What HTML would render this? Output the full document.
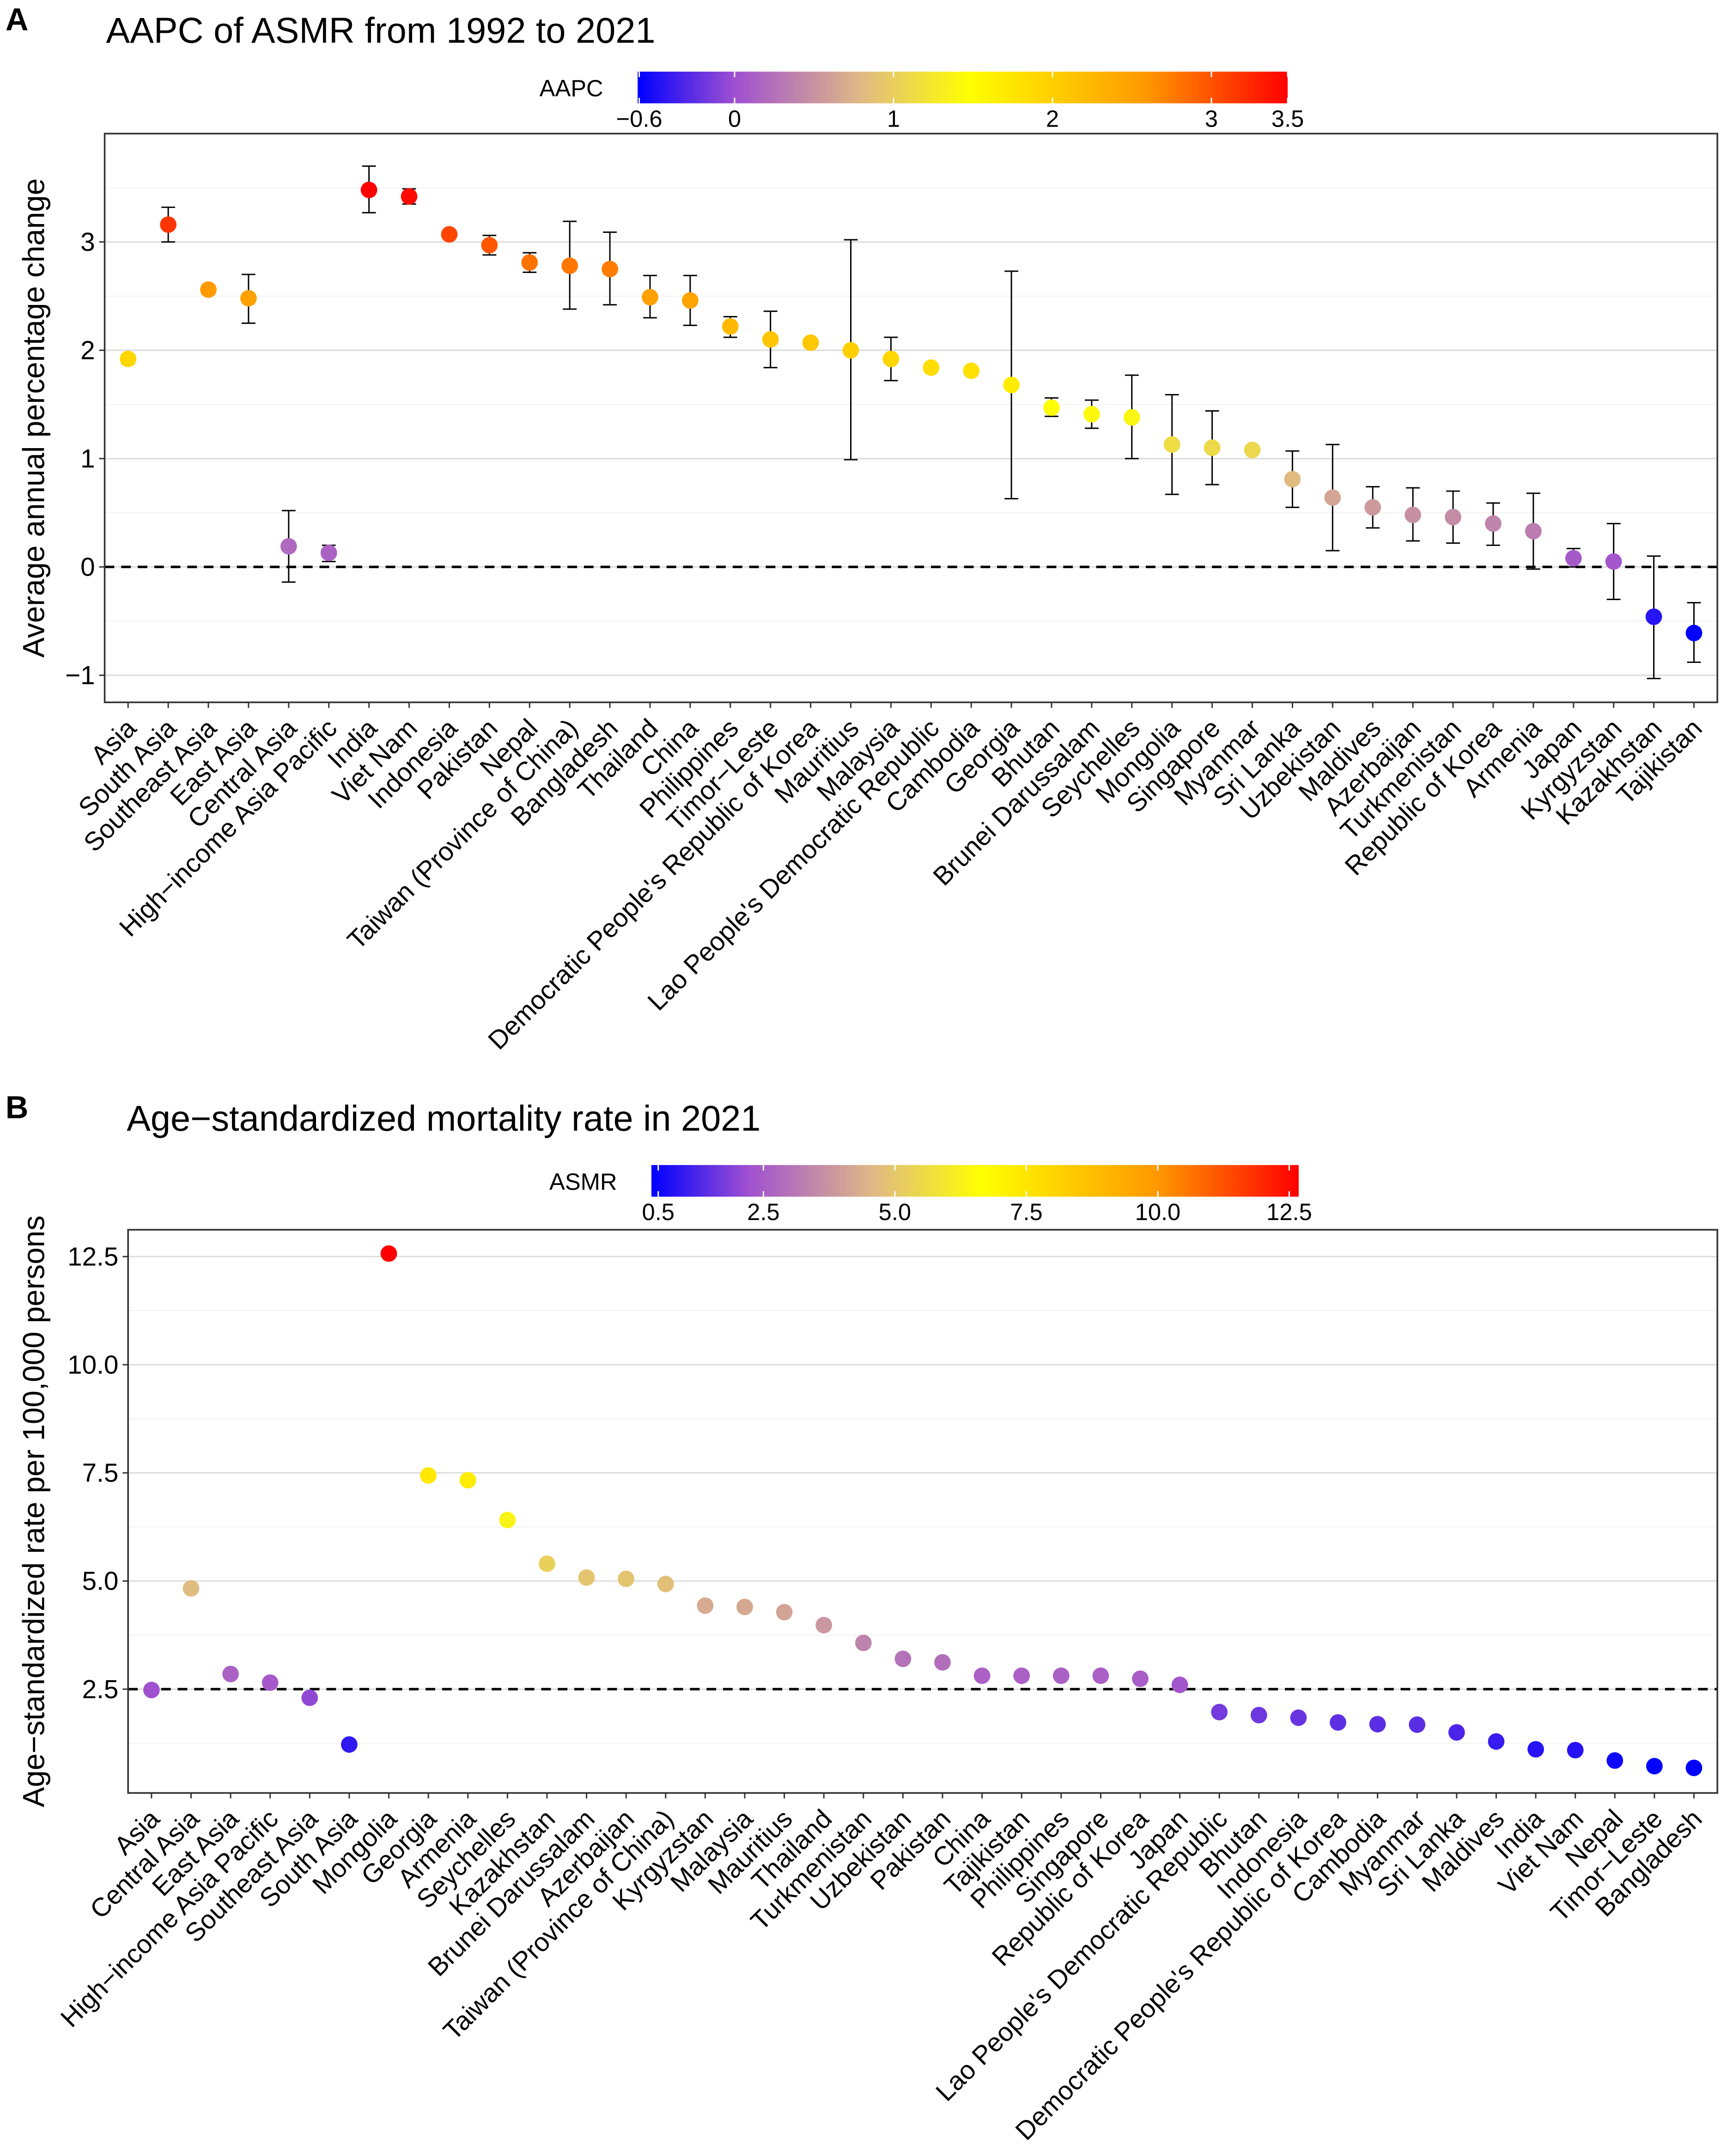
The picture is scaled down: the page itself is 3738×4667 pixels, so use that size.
<!DOCTYPE html>
<html><head><meta charset="utf-8"><style>
html,body{margin:0;padding:0;background:#fff}
svg{display:block}
text{font-family:"Liberation Sans",Arial,sans-serif;fill:#000}
</style></head><body>
<svg id="chart" width="3738" height="4667" viewBox="0 0 1254 1565.6" xmlns="http://www.w3.org/2000/svg">
<defs>
<linearGradient id="gradA" x1="0" x2="1" y1="0" y2="0">
<stop offset="0" stop-color="#0000ff"/><stop offset="0.15" stop-color="#a050d0"/><stop offset="0.34" stop-color="#deb887"/><stop offset="0.51" stop-color="#ffff00"/><stop offset="0.78" stop-color="#ff9900"/><stop offset="1" stop-color="#ff0000"/>
</linearGradient>
</defs>
<g id="panelA"></g>
<g id="panelB"></g>
</svg>
<script>
const catsA=["Asia","South Asia","Southeast Asia","East Asia","Central Asia","High−income Asia Pacific","India","Viet Nam","Indonesia","Pakistan","Nepal","Taiwan (Province of China)","Bangladesh","Thailand","China","Philippines","Timor−Leste","Democratic People's Republic of Korea","Mauritius","Malaysia","Lao People's Democratic Republic","Cambodia","Georgia","Bhutan","Brunei Darussalam","Seychelles","Mongolia","Singapore","Myanmar","Sri Lanka","Uzbekistan","Maldives","Azerbaijan","Turkmenistan","Republic of Korea","Armenia","Japan","Kyrgyzstan","Kazakhstan","Tajikistan"];
const aapc=[1.92,3.16,2.56,2.48,0.19,0.13,3.48,3.42,3.07,2.97,2.81,2.78,2.75,2.49,2.46,2.22,2.10,2.07,2.00,1.92,1.84,1.81,1.68,1.47,1.41,1.38,1.13,1.10,1.08,0.81,0.64,0.55,0.48,0.46,0.40,0.33,0.08,0.05,-0.46,-0.61];
const aapcLo=[1.88,3.00,2.52,2.25,-0.14,0.05,3.27,3.35,3.05,2.88,2.72,2.38,2.42,2.30,2.23,2.12,1.84,2.05,0.99,1.72,1.82,1.79,0.63,1.39,1.28,1.00,0.67,0.76,1.06,0.55,0.15,0.36,0.24,0.22,0.20,-0.02,0.00,-0.30,-1.03,-0.88];
const aapcHi=[1.96,3.32,2.60,2.70,0.52,0.20,3.70,3.49,3.10,3.06,2.90,3.19,3.09,2.69,2.69,2.31,2.36,2.09,3.02,2.12,1.86,1.83,2.73,1.56,1.54,1.77,1.59,1.44,1.10,1.07,1.13,0.74,0.73,0.70,0.59,0.68,0.17,0.40,0.10,-0.33];
const ticksA=[-1,0,1,2,3];
const barTicksA=[-0.6,0,1,2,3,3.5];

const catsB=["Asia","Central Asia","East Asia","High−income Asia Pacific","Southeast Asia","South Asia","Mongolia","Georgia","Armenia","Seychelles","Kazakhstan","Brunei Darussalam","Azerbaijan","Taiwan (Province of China)","Kyrgyzstan","Malaysia","Mauritius","Thailand","Turkmenistan","Uzbekistan","Pakistan","China","Tajikistan","Philippines","Singapore","Republic of Korea","Japan","Lao People's Democratic Republic","Bhutan","Indonesia","Democratic People's Republic of Korea","Cambodia","Myanmar","Sri Lanka","Maldives","India","Viet Nam","Nepal","Timor−Leste","Bangladesh"];
const asmr=[2.48,4.83,2.85,2.65,2.30,1.22,12.57,7.44,7.33,6.41,5.40,5.08,5.05,4.93,4.43,4.40,4.28,3.98,3.57,3.20,3.12,2.81,2.81,2.81,2.81,2.74,2.60,1.97,1.90,1.84,1.73,1.69,1.68,1.50,1.29,1.11,1.09,0.85,0.72,0.68];
const ticksB=[2.5,5,7.5,10,12.5];
const barTicksB=[0.5,2.5,5,7.5,10,12.5];

const NS="http://www.w3.org/2000/svg";
const palPos=[0,0.15,0.34,0.51,0.78,1];
const pal=[[0,0,255],[160,80,208],[222,184,135],[255,255,0],[255,153,0],[255,0,0]];
function colorFor(v,mn,mx){let t=(v-mn)/(mx-mn);t=Math.max(0,Math.min(1,t));let i=0;while(i<4&&t>palPos[i+1])i++;let f=(t-palPos[i])/(palPos[i+1]-palPos[i]);const a=pal[i],b=pal[i+1];return "rgb("+a.map((c,k)=>Math.round(c+(b[k]-c)*f)).join(",")+")";}
function el(parent,tag,attrs,txt){const e=document.createElementNS(NS,tag);for(const k in attrs)e.setAttribute(k,attrs[k]);if(txt!==undefined)e.textContent=txt;parent.appendChild(e);return e;}

function panel(g,o){
  const {L,R,T,B,cats,vals,lo,hi,ymin,ymax,ticks,minor,cmin,cmax,barX0,barX1,barY,barTicks,barLabel,title,letter,letterY,titleX,titleY,ytitle,bmin,bmax,fmt}=o;
  const y=v=>B-(v-ymin)/(ymax-ymin)*(B-T);
  const step=(R-L-34)/(cats.length-1);
  const x=i=>L+17+i*step;
  const t1=el(g,'text',{x:4,y:letterY,'font-size':23,'font-weight':'bold'},letter);
  
  
  const t2=el(g,'text',{x:titleX,y:titleY,'font-size':26},title);
  
  
  const cb=el(g,'g',{});
  
  
  const lt=el(cb,'text',{x:barX0-25,y:barY+18,'font-size':17,'text-anchor':'end'},barLabel);
  
  
  el(cb,'rect',{x:barX0,y:barY,width:barX1-barX0,height:23,fill:'url(#gradA)'});
  const bx=v=>barX0+(v-bmin)/(bmax-bmin)*(barX1-barX0);
  barTicks.forEach(v=>{const xx=Math.max(barX0,Math.min(barX1,bx(v)));
    el(cb,'line',{x1:xx,x2:xx,y1:barY,y2:barY+4,stroke:'#fff','stroke-width':1});
    el(cb,'line',{x1:xx,x2:xx,y1:barY+19,y2:barY+23,stroke:'#fff','stroke-width':1});
    const tl=el(cb,'text',{x:xx,y:barY+40,'font-size':17,'text-anchor':'middle'},fmt(v));
    
    
  });
  minor.forEach(v=>el(g,'line',{x1:L,x2:R,y1:y(v),y2:y(v),stroke:'#f0f0f0','stroke-width':0.6}));
  ticks.forEach(v=>{el(g,'line',{x1:L,x2:R,y1:y(v),y2:y(v),stroke:'#dcdcdc','stroke-width':1});
    el(g,'line',{x1:L-4,x2:L,y1:y(v),y2:y(v),stroke:'#333','stroke-width':1});
    const tl=el(g,'text',{x:L-7,y:y(v)+6.5,'font-size':19,'text-anchor':'end',fill:'#333'},fmt(v));
    
    
  });
  const ref=el(g,'line',{x1:L,x2:R,y1:y(o.refv),y2:y(o.refv),stroke:'#000','stroke-width':1.8,'stroke-dasharray':'7,5'});
  
  
  cats.forEach((c,i)=>{
    const xx=x(i);
    if(lo){const eb=el(g,'g',{stroke:'#000','stroke-width':1});
      
      
      el(eb,'line',{x1:xx,x2:xx,y1:y(lo[i]),y2:y(hi[i])});
      el(eb,'line',{x1:xx-5,x2:xx+5,y1:y(lo[i]),y2:y(lo[i])});
      el(eb,'line',{x1:xx-5,x2:xx+5,y1:y(hi[i]),y2:y(hi[i])});}
    const p=el(g,'circle',{cx:xx,cy:y(vals[i]),r:6,fill:colorFor(vals[i],cmin,cmax)});
    
    
    el(g,'line',{x1:xx,x2:xx,y1:B,y2:B+4,stroke:'#333','stroke-width':1});
    const tl=el(g,'text',{x:0,y:0,'font-size':19,'text-anchor':'end',fill:'#333',transform:`translate(${xx+7},${B+20}) rotate(-45)`},c);
    
    
  });
  const fr=el(g,'rect',{x:L,y:T,width:R-L,height:B-T,fill:'none',stroke:'#333','stroke-width':1.2});
  
  
  const yt=el(g,'text',{x:0,y:0,'font-size':22,'text-anchor':'middle',transform:`translate(32,${(T+B)/2}) rotate(-90)`},ytitle);
  
  
}
const fmtA=v=>String(v).replace('-','−');
const fmtB=v=>v.toFixed(1);
const minorA=[-0.5,0.5,1.5,2.5,3.5];
panel(document.getElementById('panelA'),{L:76,R:1247,T:97,B:510,cats:catsA,vals:aapc,lo:aapcLo,hi:aapcHi,ymin:-1.25,ymax:4.0,ticks:ticksA,minor:minorA,cmin:-0.61,cmax:3.48,bmin:-0.61,bmax:3.48,barX0:463,barX1:935,barY:52,barTicks:barTicksA,barLabel:'AAPC',title:'AAPC of ASMR from 1992 to 2021',letter:'A',letterY:22,titleX:77,titleY:31,ytitle:'Average annual percentage change',refv:0,fmt:fmtA});
const minorB=[1.25,3.75,6.25,8.75,11.25];
panel(document.getElementById('panelB'),{L:93,R:1247,T:893,B:1302,cats:catsB,vals:asmr,ymin:0.1,ymax:13.12,ticks:ticksB,minor:minorB,cmin:0.68,cmax:12.57,bmin:0.37,bmax:12.68,barX0:473,barX1:943,barY:846,barTicks:barTicksB,barLabel:'ASMR',title:'Age−standardized mortality rate in 2021',letter:'B',letterY:812,titleX:92,titleY:821,ytitle:'Age−standardized rate per 100,000 persons',refv:2.5,fmt:fmtB});
</script>
</body></html>
